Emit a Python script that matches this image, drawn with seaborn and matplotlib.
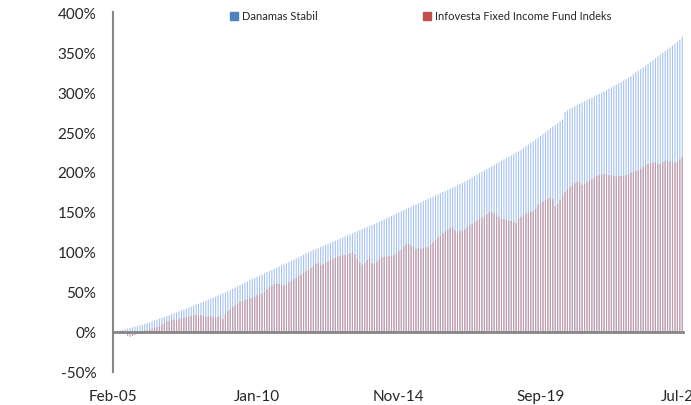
import numpy as np
import pandas as pd
import matplotlib.pyplot as plt
import seaborn as sns
from matplotlib.patches import Patch

# Monthly cumulative return (%), Feb-05 .. Jul-24
months = pd.date_range('2005-02-01', '2024-07-01', freq='MS').strftime('%b-%y')

danamas = [
    0, 0.7, 1.4, 2.1, 2.8, 3.5, 4.2, 5.0, 5.8, 6.6, 7.4,                       # 2005
    8.3, 9.2, 10.1, 11.1, 12.2, 13.3, 14.4, 15.5, 16.6, 17.7, 18.8, 19.9,      # 2006
    21.0, 22.2, 23.4, 24.6, 25.8, 27.0, 28.2, 29.4, 30.6, 31.8, 33.0, 34.2,    # 2007
    35.4, 36.6, 37.8, 39.0, 40.3, 41.6, 42.9, 44.2, 45.5, 46.8, 48.2, 49.6,    # 2008
    51.1, 52.6, 54.1, 55.6, 57.1, 58.6, 60.1, 61.6, 63.1, 64.6, 66.1, 67.6,    # 2009
    69.1, 70.6, 72.0, 73.4, 74.8, 76.2, 77.6, 79.0, 80.4, 81.8, 83.2, 84.6,    # 2010
    86.0, 87.5, 89.0, 90.5, 92.0, 93.5, 95.0, 96.5, 98.0, 99.5, 101.0, 102.5,  # 2011
    103.8, 105.1, 106.4, 107.7, 109.0, 110.3, 111.6, 112.9, 114.2, 115.5, 116.8, 118.1,  # 2012
    119.4, 120.7, 122.0, 123.3, 124.6, 125.9, 127.2, 128.5, 129.8, 131.1, 132.4, 133.7,  # 2013
    135.0, 136.4, 137.8, 139.2, 140.6, 142.0, 143.5, 145.0, 146.5, 148.0, 149.5, 151.0,  # 2014
    152.4, 153.8, 155.2, 156.6, 158.0, 159.4, 160.8, 162.2, 163.6, 165.0, 166.4, 167.8,  # 2015
    169.2, 170.6, 172.0, 173.4, 174.8, 176.2, 177.6, 179.0, 180.4, 181.8, 183.2, 184.8,  # 2016
    186.4, 188.0, 189.7, 191.4, 193.1, 194.8, 196.5, 198.3, 200.1, 201.9, 203.7, 205.5,  # 2017
    207.2, 208.9, 210.6, 212.3, 214.0, 215.7, 217.4, 219.1, 220.8, 222.5, 224.2, 225.9,  # 2018
    227.8, 229.8, 232.0, 234.2, 236.4, 238.6, 240.8, 243.0, 245.3, 247.6, 249.9, 252.2,  # 2019
    254.5, 256.8, 259.0, 261.2, 263.4, 265.6, 275.0, 276.8, 278.6, 280.4, 282.2, 284.0,  # 2020
    285.5, 287.0, 288.5, 290.0, 291.5, 293.0, 294.5, 296.0, 297.6, 299.2, 300.8, 302.4,  # 2021
    304.0, 305.7, 307.4, 309.1, 310.8, 312.5, 314.2, 316.0, 317.8, 319.6, 322.2, 324.4,  # 2022
    326.6, 328.8, 331.0, 333.2, 335.4, 337.6, 339.8, 342.0, 344.3, 346.6, 348.9, 351.2,  # 2023
    353.5, 355.8, 358.1, 360.4, 362.7, 365.5, 369.0,                                     # 2024
]

infovesta = [
    0, 0.5, 1, 1, 0.5, -1, -5, -6, -5, -4, -2,                     # 2005
    0, 1, 2, 2.5, 3, 4, 5, 6, 7, 9, 11, 13,                        # 2006
    14, 15, 15.5, 15, 16, 17, 18, 18.5, 19, 20, 21, 21,            # 2007
    20, 21, 20, 19, 20, 20, 18, 17, 19, 20, 16, 22,                # 2008
    26, 28, 31, 33, 35, 38, 38, 40, 41, 42, 43, 44,                # 2009
    46, 47, 48, 50, 53, 56, 58, 60, 61, 60, 59, 58,                # 2010
    59, 62, 64, 66, 68, 70, 72, 74, 76, 78, 80, 82,                # 2011
    85, 86, 84, 85, 87, 88, 90, 91, 93, 94, 95, 96,                # 2012
    96, 97, 98, 99, 97, 91, 87, 84, 86, 90, 92, 86,                # 2013
    85, 88, 91, 93, 94, 94, 95, 95, 96, 98, 101, 103,              # 2014
    107, 110, 110, 108, 106, 104, 105, 104, 105, 106, 106, 109,    # 2015
    112, 115, 118, 120, 123, 126, 128, 130, 131, 127, 123, 126,    # 2016
    127, 128, 131, 133, 135, 137, 139, 141, 143, 144, 147, 150,    # 2017
    150, 148, 146, 144, 141, 141, 140, 139, 139, 137, 136, 142,    # 2018
    144, 146, 148, 149, 150, 151, 154, 159, 161, 163, 165, 166,    # 2019
    168, 166, 157, 160, 165, 171, 175, 178, 181, 183, 186, 188,    # 2020
    187, 184, 185, 187, 189, 191, 193, 195, 196, 197, 197, 197,    # 2021
    196, 196, 195, 194, 195, 195, 195, 196, 197, 199, 200, 201,    # 2022
    202, 204, 206, 208, 210, 211, 212, 212, 210, 210, 212, 214,    # 2023
    214, 213, 212, 212, 213, 216, 219,                             # 2024
]

series_names = ['Danamas Stabil', 'Infovesta Fixed Income Fund Indeks']
tick_months = ['Feb-05', 'Jan-10', 'Nov-14', 'Sep-19', 'Jul-24']
y_ticks = list(range(-50, 401, 50))

df = pd.DataFrame({'month': months, series_names[0]: danamas, series_names[1]: infovesta})
long = df.melt(id_vars='month', var_name='series', value_name='ret')

sns.set_style('white')
plt.rcParams['font.family'] = ['Lato', 'DejaVu Sans']

fig = plt.figure(figsize=(6.91, 4.06), dpi=100)
ax = fig.add_axes([113 / 691, 1 - 373 / 406, 570 / 691, 360 / 406])

sns.barplot(data=long, x='month', y='ret', hue='series', hue_order=series_names,
            palette=['#a6c2e8', '#c598a4'], dodge=False, width=0.45, saturation=1,
            legend=False, ax=ax)
# thin bars: turn off pixel snapping so every month stays visible
for p in ax.patches:
    p.set_snap(False)
    p.set_linewidth(0)

ax.set_xlim(0, 233.3)
ax.set_ylim(-50, 400)
ax.set_yticks(y_ticks)
ax.set_yticklabels([f'{v}%' for v in y_ticks])
pos = [list(months).index(m) for m in tick_months]
ax.set_xticks(pos)
ax.set_xticklabels(tick_months)
ax.set_xlabel('')
ax.set_ylabel('')

grey = '#868686'
for s in ['top', 'right']:
    ax.spines[s].set_visible(False)
ax.spines['left'].set_color(grey)
ax.spines['left'].set_linewidth(1.5)
ax.spines['bottom'].set_color(grey)
ax.spines['bottom'].set_linewidth(2)
ax.spines['bottom'].set_position(('data', 0))
ax.tick_params(axis='y', direction='out', length=4, width=1, color=grey, labelsize=11, pad=8)
ax.tick_params(axis='x', direction='out', length=4, width=1, color=grey, labelsize=11, pad=37)

handles = [Patch(color='#4f81bd'), Patch(color='#c0504d')]
fig.legend(handles, series_names, ncol=2, loc='center left',
           bbox_to_anchor=(230 / 691, 1 - 17 / 406), frameon=False, fontsize=8,
           handlelength=0.75, handleheight=0.75, handletextpad=0.3,
           columnspacing=9.5, borderpad=0, borderaxespad=0)

fig.savefig('out.png', dpi=100)
